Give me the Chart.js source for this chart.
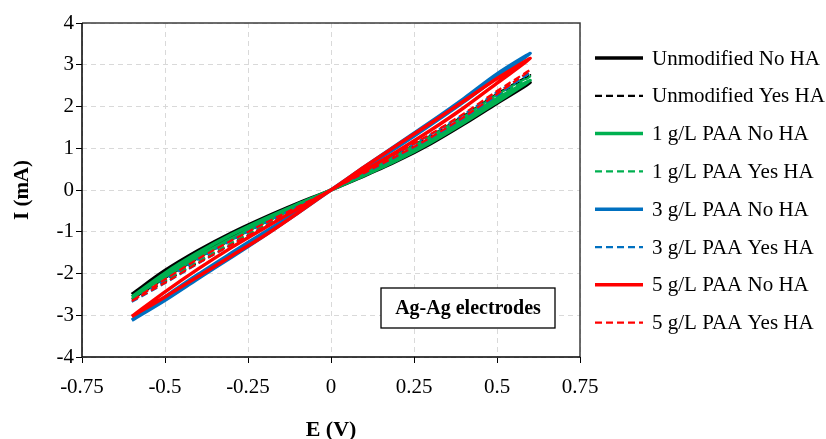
<!DOCTYPE html>
<html lang="en">
<head>
<meta charset="UTF-8">
<title>Ag-Ag electrodes - I/E sweep</title>
<script src="https://cdn.jsdelivr.net/npm/chart.js"></script>
<style>
    html, body {
        margin: 0;
        padding: 0;
        background: #ffffff;
    }
    #wrap {
        width: 826px;
        height: 439px;
    }
</style>
</head>
<body>
<div id="wrap">
    <canvas id="ivChart" width="826" height="439"></canvas>
</div>

<script>
// potential sweep points (V), same grid for the forward and the return branch
const E_SWEEP = [-0.6, -0.5, -0.4, -0.3, -0.2, -0.1, 0, 0.1, 0.2, 0.3, 0.4, 0.5, 0.6];

// current (mA), forward branch (-0.6 -> 0.6) and return branch (listed at the same E values)
const unmodNoFwd  = [-2.50, -2.01, -1.55, -1.13, -0.74, -0.36, 0, 0.34, 0.70, 1.11, 1.58, 2.08, 2.57];
const unmodNoRev  = [-2.50, -1.93, -1.45, -1.03, -0.66, -0.32, 0, 0.38, 0.77, 1.19, 1.66, 2.16, 2.57];
const unmodYesFwd = [-2.62, -2.19, -1.73, -1.29, -0.86, -0.43, 0, 0.39, 0.79, 1.22, 1.70, 2.23, 2.75];
const unmodYesRev = [-2.62, -2.11, -1.63, -1.19, -0.78, -0.39, 0, 0.43, 0.86, 1.30, 1.78, 2.30, 2.75];
const paa1NoFwd   = [-2.56, -2.07, -1.60, -1.17, -0.77, -0.38, 0, 0.35, 0.72, 1.14, 1.61, 2.11, 2.62];
const paa1NoRev   = [-2.56, -1.99, -1.50, -1.07, -0.69, -0.34, 0, 0.39, 0.79, 1.22, 1.69, 2.19, 2.62];
const paa1YesFwd  = [-2.60, -2.17, -1.71, -1.27, -0.85, -0.42, 0, 0.38, 0.78, 1.21, 1.68, 2.21, 2.72];
const paa1YesRev  = [-2.60, -2.09, -1.61, -1.17, -0.77, -0.38, 0, 0.42, 0.85, 1.29, 1.76, 2.28, 2.72];
const paa3NoFwd   = [-3.12, -2.64, -2.12, -1.61, -1.09, -0.55, 0, 0.51, 1.03, 1.56, 2.11, 2.70, 3.27];
const paa3NoRev   = [-3.12, -2.56, -2.02, -1.51, -1.01, -0.51, 0, 0.55, 1.09, 1.63, 2.19, 2.78, 3.27];
const paa3YesFwd  = [-2.68, -2.23, -1.76, -1.31, -0.88, -0.44, 0, 0.40, 0.81, 1.25, 1.73, 2.27, 2.82];
const paa3YesRev  = [-2.68, -2.15, -1.66, -1.21, -0.80, -0.40, 0, 0.44, 0.88, 1.33, 1.81, 2.34, 2.82];
const paa5NoFwd   = [-3.03, -2.56, -2.07, -1.58, -1.09, -0.55, 0, 0.46, 0.93, 1.43, 1.97, 2.56, 3.15];
const paa5NoRev   = [-3.03, -2.44, -1.89, -1.38, -0.91, -0.45, 0, 0.55, 1.08, 1.60, 2.13, 2.67, 3.15];
const paa5YesFwd  = [-2.66, -2.22, -1.75, -1.31, -0.88, -0.44, 0, 0.41, 0.82, 1.26, 1.75, 2.30, 2.87];
const paa5YesRev  = [-2.66, -2.14, -1.65, -1.21, -0.80, -0.40, 0, 0.45, 0.89, 1.34, 1.83, 2.37, 2.87];

const SERIES_NAMES = [
    'Unmodified No HA', 'Unmodified Yes HA',
    '1 g/L PAA No HA', '1 g/L PAA Yes HA',
    '3 g/L PAA No HA', '3 g/L PAA Yes HA',
    '5 g/L PAA No HA', '5 g/L PAA Yes HA'
];
const SERIES_FWD = [unmodNoFwd, unmodYesFwd, paa1NoFwd, paa1YesFwd, paa3NoFwd, paa3YesFwd, paa5NoFwd, paa5YesFwd];
const SERIES_REV = [unmodNoRev, unmodYesRev, paa1NoRev, paa1YesRev, paa3NoRev, paa3YesRev, paa5NoRev, paa5YesRev];

const X_TICKS = [-0.75, -0.5, -0.25, 0, 0.25, 0.5, 0.75];
const Y_TICKS = [-4, -3, -2, -1, 0, 1, 2, 3, 4];

const COLORS = ['#000000', '#000000', '#00b050', '#00b050', '#0070c0', '#0070c0', '#ff0000', '#ff0000'];
const SERIF = '"Liberation Serif", "Times New Roman", serif';

// one closed loop per series: up the forward branch, back down the return branch
function sweepLoop(fwd, rev) {
    const pts = E_SWEEP.map((e, i) => ({ x: e, y: fwd[i] }));
    for (let i = E_SWEEP.length - 2; i >= 0; i--) {
        pts.push({ x: E_SWEEP[i], y: rev[i] });
    }
    return pts;
}

const datasets = SERIES_NAMES.map((name, i) => {
    const dashed = i % 2 === 1;
    return {
        label: name,
        data: sweepLoop(SERIES_FWD[i], SERIES_REV[i]),
        borderColor: COLORS[i],
        borderWidth: dashed ? 2.25 : 3.5,
        borderDash: dashed ? [7, 4] : [],
        pointRadius: 0,
        showLine: true,
        tension: 0.3,
        fill: false,
        order: SERIES_NAMES.length - i   // later series drawn on top
    };
});

// plot frame, the boxed note and the legend column on the right
const decorations = {
    id: 'decorations',
    beforeDatasetsDraw(chart) {
        const { ctx, chartArea: a } = chart;
        ctx.save();
        ctx.lineWidth = 1.5;
        ctx.strokeStyle = '#3c3c3c';
        ctx.beginPath();
        ctx.moveTo(a.left, a.top);
        ctx.lineTo(a.right, a.top);
        ctx.lineTo(a.right, a.bottom);
        ctx.stroke();
        ctx.strokeStyle = '#000000';
        ctx.beginPath();
        ctx.moveTo(a.left, a.top);
        ctx.lineTo(a.left, a.bottom);
        ctx.lineTo(a.right, a.bottom);
        ctx.stroke();
        ctx.restore();
    },
    afterDraw(chart) {
        const ctx = chart.ctx;
        ctx.save();

        // note box
        const bx = 381, by = 288, bw = 174, bh = 40;
        ctx.fillStyle = '#ffffff';
        ctx.fillRect(bx, by, bw, bh);
        ctx.lineWidth = 1.3;
        ctx.strokeStyle = '#000000';
        ctx.strokeRect(bx, by, bw, bh);
        ctx.fillStyle = '#000000';
        ctx.font = 'bold 20px ' + SERIF;
        ctx.textAlign = 'center';
        ctx.textBaseline = 'middle';
        ctx.fillText('Ag-Ag electrodes', bx + bw / 2, by + bh / 2 + 1);

        // legend
        ctx.font = '21px ' + SERIF;
        ctx.textAlign = 'left';
        chart.data.datasets.forEach((ds, i) => {
            const y = 58 + i * 37.8;
            ctx.strokeStyle = ds.borderColor;
            ctx.lineWidth = ds.borderWidth;
            ctx.setLineDash(ds.borderDash);
            ctx.beginPath();
            ctx.moveTo(595, y);
            ctx.lineTo(643, y);
            ctx.stroke();
            ctx.setLineDash([]);
            ctx.fillStyle = '#000000';
            ctx.fillText(ds.label, 652, y + 1);
        });
        ctx.restore();
    }
};

new Chart(document.getElementById('ivChart'), {
    type: 'scatter',
    data: { datasets: datasets },
    options: {
        responsive: false,
        animation: false,
        devicePixelRatio: 1,
        layout: { padding: { top: 23, right: 246, bottom: 0, left: 0 } },
        plugins: {
            legend: { display: false },
            tooltip: { enabled: false }
        },
        scales: {
            x: {
                type: 'linear',
                min: X_TICKS[0],
                max: X_TICKS[X_TICKS.length - 1],
                afterBuildTicks: scale => { scale.ticks = X_TICKS.map(v => ({ value: v })); },
                afterFit: scale => { scale.height = 82; },
                ticks: {
                    color: '#000000',
                    padding: 12,
                    maxRotation: 0,
                    autoSkip: false,
                    font: { family: SERIF, size: 21 },
                    callback: v => String(+v.toFixed(2))
                },
                grid: {
                    color: '#d9d9d9',
                    lineWidth: 1,
                    tickColor: '#000000',
                    tickLength: 6
                },
                border: { display: false, dash: [5, 4] },
                title: {
                    display: true,
                    text: 'E (V)',
                    color: '#000000',
                    padding: 0,
                    font: { family: SERIF, size: 22, weight: 'bold', lineHeight: 0.8 }
                }
            },
            y: {
                type: 'linear',
                min: Y_TICKS[0],
                max: Y_TICKS[Y_TICKS.length - 1],
                afterBuildTicks: scale => { scale.ticks = Y_TICKS.map(v => ({ value: v })); },
                afterFit: scale => { scale.width = 82; },
                ticks: {
                    color: '#000000',
                    padding: 2,
                    autoSkip: false,
                    font: { family: SERIF, size: 21 },
                    callback: v => String(v)
                },
                grid: {
                    color: '#d9d9d9',
                    lineWidth: 1,
                    tickColor: '#000000',
                    tickLength: 6
                },
                border: { display: false, dash: [5, 4] },
                title: {
                    display: true,
                    text: 'I (mA)',
                    color: '#000000',
                    padding: { top: 10, bottom: 0 },
                    font: { family: SERIF, size: 21, weight: 'bold' }
                }
            }
        }
    },
    plugins: [decorations]
});
</script>
</body>
</html>
